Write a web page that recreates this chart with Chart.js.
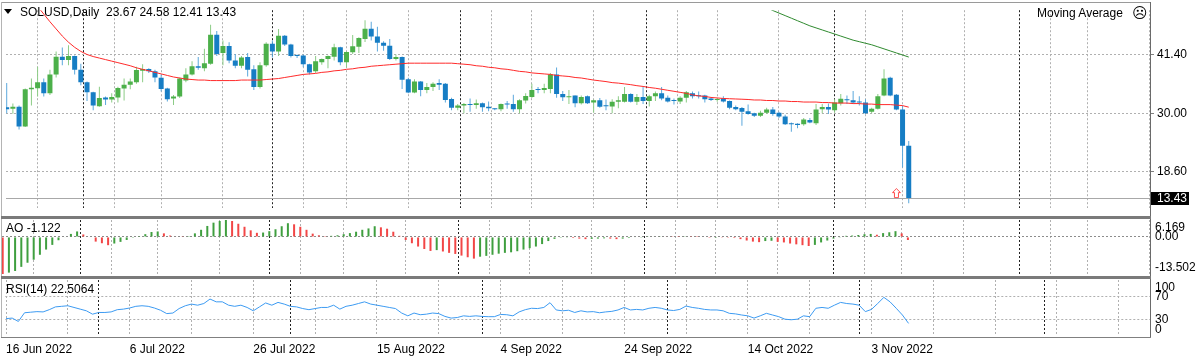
<!DOCTYPE html>
<html>
<head>
<meta charset="utf-8">
<script src="https://cdn.jsdelivr.net/npm/chart.js@4.4.0/dist/chart.umd.min.js"></script>
<style>
body { margin: 0; background: #fff; }
#wrap { position: relative; width: 1200px; height: 360px; overflow: hidden; background: #fff;
        font-family: 'Liberation Sans', Arial, sans-serif; font-size: 12px; color: #000; }
canvas { position: absolute; left: 0; }
.t { position: absolute; white-space: pre; line-height: 14px; }
.ln { position: absolute; }
</style>
</head>
<body>
<div id="wrap">
  <canvas id="mainChart" width="1200" height="218" style="top:0px"></canvas>
  <canvas id="aoChart" width="1200" height="58" style="top:218px"></canvas>
  <canvas id="rsiChart" width="1200" height="82" style="top:278px"></canvas>

  <div class="ln" style="left:1px;top:2px;width:1150px;height:1px;background:#9a9a9a"></div>
  <div class="ln" style="left:1px;top:2px;width:1px;height:336px;background:#b4b4b4"></div>
  <div class="ln" style="left:1150px;top:2px;width:1px;height:336px;background:#6a6a6a"></div>
  <div class="ln" style="left:1px;top:216px;width:1150px;height:3px;background:#7a7a7a"></div>
  <div class="ln" style="left:1px;top:276px;width:1150px;height:3px;background:#7a7a7a"></div>
  <div class="ln" style="left:1px;top:337px;width:1150px;height:1px;background:#808080"></div>

  <div class="ln" style="left:4px;top:9px;width:0;height:0;border-left:4px solid transparent;border-right:4px solid transparent;border-top:5px solid #000"></div>
  <div class="t" id="title" style="left:20px;top:5px"></div>
  <div class="t" style="left:1037px;top:6px">Moving Average</div>
  <div class="t" style="left:1132px;top:4px;font-family:'DejaVu Sans';font-size:15px;line-height:18px">&#9785;</div>
  <div class="t" id="aoLabel" style="left:6px;top:221px"></div>
  <div class="t" id="rsiLabel" style="left:6px;top:282px"></div>
</div>

<script>
// SOLUSD daily, 16 Jun 2022 .. 9 Nov 2022 (one bar per day)
var symbol = 'SOLUSD', period = 'Daily';

var opens = [31.2,30.9,31.3,27.4,34.7,34.9,36.06,33.94,37.6,41.04,
  40.4,41.2,38.5,36.06,34.1,31.4,33.1,32.7,33.1,34.85,
  35.6,36.06,38.3,38.67,38.2,36.97,34.85,32.9,33.3,36.4,
  37.6,39.2,38.8,39.7,45.35,41.8,43.15,40.3,39.3,41.0,
  38.6,35.15,39.4,43.6,42.1,45.16,43.46,41.3,41.3,39.6,
  38.2,40.0,40.6,41.04,42.9,40.0,41.95,43.0,44.55,46.55,
  45.0,43.8,43.2,40.6,41.0,36.67,34.06,36.2,34.55,35.15,
  35.9,35.76,32.79,31.1,31.5,31.8,31.6,31.95,31.3,30.97,
  30.8,31.8,31.8,30.8,32.5,33.2,34.73,34.55,34.73,37.6,
  33.76,33.15,33.46,31.95,33.34,32.1,32.55,31.5,31.33,32.24,
  32.24,33.76,32.24,33.2,32.42,33.34,33.94,33.03,32.55,32.3,
  33.03,33.94,33.46,33.46,32.91,32.6,32.91,32.42,31.21,31.03,
  30.42,30.0,29.52,30.12,30.73,30.12,29.39,28.06,27.94,27.88,
  28.67,28.06,30.79,31.21,30.6,31.94,32.73,32.55,32.3,32.12,
  30.3,30.9,33.46,36.97,33.64,30.73,23.67];
var highs = [35.9,31.9,31.5,34.85,36.8,39.1,36.8,38.5,42.1,42.85,
  43.3,41.3,39.7,36.2,34.2,35.2,33.3,33.9,35.2,36.8,
  36.8,39.1,39.6,38.8,38.5,37.6,35.0,33.6,37.0,38.8,
  40.2,41.0,42.6,47.3,46.1,44.25,43.9,41.6,41.2,41.8,
  39.4,40.0,43.9,44.25,46.5,45.3,43.6,41.5,41.5,39.7,
  41.2,40.7,41.3,43.6,43.0,42.1,45.3,44.85,48.2,47.9,
  46.9,44.1,44.55,41.5,41.1,36.97,36.67,36.3,35.94,36.06,
  36.67,35.9,33.03,31.8,32.0,32.9,32.7,32.1,32.3,31.0,
  31.9,32.4,33.64,32.73,33.94,35.76,35.15,35.76,37.9,38.97,
  34.36,34.55,33.5,33.46,33.46,32.7,33.0,32.7,32.73,33.34,
  35.15,33.94,33.76,35.15,33.64,34.24,35.15,33.46,32.91,33.34,
  34.36,34.24,34.24,33.64,33.03,33.03,33.34,32.5,31.52,31.21,
  31.7,30.1,30.48,31.09,31.21,30.3,29.7,28.18,28.06,29.09,
  29.09,31.82,31.82,31.9,32.73,33.76,33.46,34.36,33.34,32.73,
  31.09,33.76,38.61,37.15,33.76,31.52,24.58];
var lows = [30.0,29.9,26.85,27.3,31.5,33.3,33.3,33.6,37.0,39.4,
  39.4,37.6,35.5,32.4,30.6,31.3,31.6,32.1,32.1,32.5,
  34.7,35.76,36.06,37.9,36.06,34.24,32.3,31.6,33.0,36.06,
  37.4,38.5,38.2,39.5,41.2,39.4,39.8,38.8,38.8,37.2,
  34.55,34.85,39.1,40.9,41.2,43.15,40.9,40.8,39.0,37.6,
  37.9,39.5,38.8,40.3,39.4,39.0,41.6,41.8,43.95,44.25,
  42.1,42.25,40.4,40.3,34.73,33.94,33.94,33.34,33.94,34.36,
  34.55,32.1,30.6,30.6,30.0,30.3,30.9,30.3,30.4,30.6,
  30.4,30.9,30.3,30.0,31.9,33.0,33.9,33.94,33.94,33.03,
  32.4,31.8,31.2,31.7,31.8,30.1,31.1,30.6,30.0,30.97,
  32.12,32.12,31.63,31.8,31.33,32.42,32.55,32.12,31.7,31.8,
  32.12,32.91,32.91,32.12,32.42,32.24,32.12,30.79,30.6,27.57,
  29.7,29.27,29.27,29.88,29.52,29.09,27.7,26.4,27.09,27.57,
  28.06,27.7,30.0,29.88,30.12,31.52,31.82,31.82,31.52,29.88,
  30.0,30.73,33.34,33.34,30.6,19.39,12.41];
var closes = [30.8,31.3,27.4,34.7,35.0,36.06,33.94,37.6,41.04,40.4,
  41.2,38.5,36.06,34.1,31.5,33.0,32.7,33.2,34.97,35.6,
  36.2,38.49,38.67,38.2,37.0,34.73,32.73,33.3,36.8,37.6,
  39.2,38.9,39.8,45.35,41.6,43.15,40.3,39.3,40.9,38.5,
  35.15,39.4,43.6,42.1,45.16,43.46,41.2,41.2,39.6,38.0,
  40.2,40.6,41.2,42.9,40.0,42.0,43.1,44.7,46.55,45.0,
  43.8,43.2,40.6,41.0,36.55,34.06,36.2,34.55,35.15,35.76,
  35.6,32.6,31.1,31.5,31.8,31.6,31.95,31.2,30.97,30.8,
  31.8,31.7,30.8,32.55,33.4,34.55,34.55,34.97,37.6,33.76,
  33.15,33.34,31.95,33.2,31.95,32.55,31.3,31.4,32.24,32.55,
  33.76,32.24,33.2,32.42,33.34,33.94,32.91,32.3,32.42,33.03,
  34.12,33.34,33.34,32.73,32.6,32.79,32.3,31.09,30.79,30.3,
  29.88,29.52,30.12,30.73,29.88,29.39,27.88,27.88,27.7,28.79,
  28.18,30.73,31.21,30.73,32.12,32.85,32.55,32.12,32.12,30.0,
  30.9,33.34,36.79,33.46,30.73,23.63,13.43];

// red moving average, one value per bar (first bars are above the visible range)
var fastMa = [60.5,58.4,56.3,54.2,52.4,50.9,49.4,47.9,46.5,45.1,
  43.9,42.9,42.1,41.5,41.1,40.8,40.5,40.2,39.9,39.6,
  39.3,38.9,38.6,38.3,38.0,37.7,37.4,37.1,36.9,36.7,
  36.6,36.5,36.5,36.4,36.4,36.4,36.4,36.4,36.5,36.5,
  36.5,36.5,36.6,36.7,36.8,37.0,37.2,37.4,37.6,37.7,
  37.8,38.0,38.1,38.3,38.4,38.6,38.7,38.9,39.0,39.2,
  39.3,39.4,39.5,39.6,39.7,39.8,39.8,39.8,39.8,39.8,
  39.8,39.8,39.8,39.7,39.6,39.5,39.3,39.2,39.0,38.9,
  38.7,38.6,38.4,38.2,38.1,37.9,37.8,37.7,37.6,37.4,
  37.3,37.2,37.0,36.9,36.7,36.5,36.35,36.2,36.0,35.9,
  35.75,35.6,35.4,35.25,35.05,34.9,34.7,34.5,34.3,34.1,
  33.9,33.6,33.4,33.3,33.1,33.0,32.9,32.85,32.8,32.75,
  32.7,32.6,32.6,32.5,32.5,32.4,32.4,32.3,32.3,32.2,
  32.2,32.2,32.1,32.1,32.0,32.0,32.0,31.9,31.9,31.8,
  31.8,31.7,31.7,31.7,31.6,31.5,31.2];

// green moving average, only reaches the visible range near the end
var slowMaFrom = 121;
var slowMa = [52.0,51.3,50.7,50.1,49.6,49.1,48.6,48.1,47.6,47.1,
  46.7,46.3,45.9,45.5,45.1,44.7,44.3,44.0,43.7,43.4,
  43.0,42.6,42.2,41.8,41.4,41.0];

var aoValues = [-13.502,-13.0,-12.4,-10.9,-9.4,-8.3,-6.5,-4.6,-2.9,-1.2,
  -0.2,1.1,2.0,0.9,-0.2,-1.7,-2.3,-3.0,-2.4,-1.8,
  -1.1,-0.3,0.3,1.0,1.8,2.0,1.3,0.5,0.2,0.1,
  0.3,1.3,2.6,4.0,5.2,5.8,6.169,5.8,4.8,3.7,
  2.4,1.5,1.6,2.1,2.8,3.9,5.0,4.6,3.7,2.6,
  1.2,0.6,0.3,0.4,0.6,1.0,1.4,1.9,2.6,3.1,
  3.9,3.5,3.0,1.9,0.4,-1.1,-2.3,-3.5,-4.4,-5.1,
  -4.8,-5.3,-5.8,-6.2,-6.8,-7.4,-7.9,-7.2,-6.9,-6.5,
  -6.1,-5.8,-5.6,-5.2,-4.6,-4.1,-3.5,-2.6,-1.5,-0.7,
  -0.3,-0.1,-0.4,-0.6,-0.8,-0.7,-0.6,-0.5,-0.6,-0.8,
  -0.6,-0.4,-0.2,-0.1,0.1,0.2,0.25,0.2,0.1,0.05,
  0.1,0.08,0.05,0.0,-0.05,-0.03,-0.1,-0.3,-0.4,-0.8,
  -1.3,-1.7,-1.9,-1.5,-1.4,-1.8,-2.0,-2.4,-2.7,-3.0,
  -3.3,-2.9,-2.0,-1.3,-0.6,-0.1,0.4,0.5,0.7,1.0,
  1.1,0.8,1.4,1.7,2.1,1.3,-1.122];

var rsiValues = [31,32,26,41.5,42.5,43.5,43,47,52,53,
  54,51,48,45,39,42,42,43,47,48,
  50,53,54,53,50,46,40,41,49,54,
  57,55,58,66,61,61,55,53,55,51,
  45,52,59,55,60,57,53,52,49,47,
  49,51,51,55,48,53,55,58,61,57,
  55,53,51,49,41,36,41,38,39,41,
  40,35,32,33,36,35,36,35,34.5,34.5,
  38.5,38,36,43,47,49.5,49,51,59.5,46.5,
  45,46,42,45,43,43.5,41.5,43,44,46.5,
  51,46.5,47.5,46.5,49.5,51,49.5,46.5,45.5,47.5,
  53.5,51,49.5,47.5,46.5,46.5,45,40.5,39.5,37.5,
  36,32,36,40.5,37.5,34.5,30,29,30,36,
  34.5,49.5,51,49.5,55,60,58,57,55,43.5,
  47.5,58,69,61,49.5,37.5,22.5064];

// signal arrow under the bar of 7 Nov
var arrowBars = [144];
var arrowPrices = [14.4];

// axes
var priceTicks = [18.6, 30.0, 41.4];
var aoTickValues = [6.169, 0, -13.502];
var aoTickTexts = ['6.169', '0.00', '-13.502'];
var rsiTickValues = [100, 70, 30, 0];
var rsiTickTexts = ['100', '70', '30', '0'];
var gridBars = [0,10,20,30,40,50,60,70,80,90,100,110,120,130,140,150,160,170,180];
var monthBars = [15,46,77,107,138,168];
var dateBars = [0,20,40,60,80,100,120,140];
var dateLabels = ['16 Jun 2022','6 Jul 2022','26 Jul 2022','15 Aug 2022','4 Sep 2022','24 Sep 2022','14 Oct 2022','3 Nov 2022'];

var last = closes.length - 1;
document.getElementById('title').textContent = symbol + ',' + period + '  ' +
  [opens[last], highs[last], lows[last], closes[last]].map(function(v) { return v.toFixed(2); }).join(' ');
document.getElementById('aoLabel').textContent = 'AO ' + aoValues[last].toFixed(3);
document.getElementById('rsiLabel').textContent = 'RSI(14) ' + rsiValues[last].toFixed(4);

Chart.defaults.font.family = "'Liberation Sans', Arial, sans-serif";
Chart.defaults.font.size = 12;
Chart.defaults.color = '#000';

var xMin = -0.113, xMax = 185.05;
var allGrid = gridBars.concat(monthBars).sort(function(a, b) { return a - b; });

function timeAxis(showLabels) {
  return {
    type: 'linear', min: xMin, max: xMax, offset: false,
    afterBuildTicks: function(s) { s.ticks = allGrid.map(function(v) { return {value: v}; }); },
    afterFit: function(s) { s.height = showLabels ? 24 : 0; },
    ticks: {
      display: showLabels, autoSkip: false, maxRotation: 0, align: 'start', padding: 6,
      callback: function(v) { var k = dateBars.indexOf(v); return k < 0 ? '' : dateLabels[k]; }
    },
    grid: {
      drawTicks: false,
      color: function(c) { return c.tick && monthBars.indexOf(c.tick.value) >= 0 ? '#222222' : '#b0b0b0'; }
    },
    border: { display: false, dash: [2, 2] }
  };
}

function sideAxis(min, max, lines, color) {
  return {
    position: 'right', min: min, max: max,
    afterBuildTicks: function(s) { s.ticks = lines.map(function(v) { return {value: v}; }); },
    afterFit: function(s) { s.width = 50; },
    ticks: { display: false },
    grid: { color: color, drawTicks: false },
    border: { display: false, dash: [2, 2] }
  };
}

// labels at the right side of the indicator windows
var sideLabels = {
  id: 'sideLabels',
  afterDraw: function(chart, args, opts) {
    var ctx = chart.ctx, ys = chart.scales.y, n = opts.values.length;
    ctx.save();
    ctx.font = "12px 'Liberation Sans', Arial, sans-serif";
    ctx.fillStyle = '#000';
    ctx.textAlign = 'left';
    opts.values.forEach(function(v, k) {
      var y = ys.getPixelForValue(v);
      if (k === 0) { ctx.textBaseline = 'top'; y += 2; }
      else if (k === n - 1) ctx.textBaseline = 'bottom';
      else ctx.textBaseline = 'middle';
      ctx.fillText(opts.texts[k], chart.chartArea.right + 5, y);
    });
    ctx.restore();
  }
};

// bid line and price box of the last close
var bidLine = {
  id: 'bidLine',
  beforeDatasetsDraw: function(chart) {
    var ctx = chart.ctx, a = chart.chartArea;
    var py = Math.round(chart.scales.y.getPixelForValue(closes[last])) + 0.5;
    ctx.save();
    ctx.strokeStyle = '#a8a8a8';
    ctx.lineWidth = 1;
    ctx.beginPath(); ctx.moveTo(a.left, py); ctx.lineTo(a.right, py); ctx.stroke();
    ctx.restore();
  },
  afterDraw: function(chart) {
    var ctx = chart.ctx, a = chart.chartArea;
    var py = Math.round(chart.scales.y.getPixelForValue(closes[last]));
    ctx.save();
    ctx.fillStyle = '#000';
    ctx.fillRect(a.right + 1, py - 6, 38, 13);
    ctx.fillStyle = '#fff';
    ctx.font = "12px 'Liberation Sans', Arial, sans-serif";
    ctx.textBaseline = 'middle';
    ctx.fillText(closes[last].toFixed(2), a.right + 7, py + 1);
    ctx.restore();
  }
};

// hollow red up arrow used as point style
var arrowImg = document.createElement('canvas');
arrowImg.width = 9; arrowImg.height = 10;
(function() {
  var c = arrowImg.getContext('2d');
  c.beginPath();
  c.moveTo(4.5, 0.5); c.lineTo(8.5, 4.5); c.lineTo(6.5, 4.5); c.lineTo(6.5, 9.5);
  c.lineTo(2.5, 9.5); c.lineTo(2.5, 4.5); c.lineTo(0.5, 4.5); c.closePath();
  c.fillStyle = '#fff'; c.fill();
  c.strokeStyle = '#ff4a4a'; c.lineWidth = 1; c.stroke();
})();

var bodyColors = opens.map(function(o, i) { return closes[i] >= o ? '#4cb04a' : '#167dc4'; });
var wickColors = opens.map(function(o, i) { return closes[i] >= o ? '#8ccc86' : '#5ca8dc'; });
var aoColors = aoValues.map(function(v, i) { return i > 0 && v > aoValues[i - 1] ? '#3f9f3f' : '#f24646'; });

var common = {
  responsive: false, animation: false, events: [],
  plugins: { legend: { display: false }, tooltip: { enabled: false } }
};

new Chart(document.getElementById('mainChart'), {
  type: 'bar',
  data: {
    datasets: [
      { type: 'line', data: fastMa.map(function(v, i) { return {x: i, y: v}; }),
        borderColor: '#ff2a2a', borderWidth: 1, pointRadius: 0, order: 0 },
      { type: 'line', data: slowMa.map(function(v, k) { return {x: slowMaFrom + k, y: v}; }),
        borderColor: '#2f8a2f', borderWidth: 1, pointRadius: 0, order: 0 },
      { data: highs.map(function(h, i) { return {x: i, y: [lows[i], h]}; }),
        backgroundColor: wickColors, barThickness: 1, grouped: false, inflateAmount: 0, order: 2 },
      { data: opens.map(function(o, i) { return {x: i, y: [o, closes[i]]}; }),
        backgroundColor: bodyColors, barThickness: 5, grouped: false, inflateAmount: 0, minBarLength: 1, order: 1 },
      { type: 'line', data: arrowBars.map(function(b, k) { return {x: b, y: arrowPrices[k]}; }),
        showLine: false, pointStyle: arrowImg, pointRadius: 5, order: -1 }
    ]
  },
  options: Object.assign({}, common, {
    layout: { padding: { left: 2, right: 0, top: 2, bottom: 2 } },
    scales: {
      x: timeAxis(false),
      y: {
        position: 'right', min: 11.52, max: 50.16,
        afterBuildTicks: function(s) { s.ticks = priceTicks.map(function(v) { return {value: v}; }); },
        afterFit: function(s) { s.width = 50; },
        ticks: { callback: function(v) { return v.toFixed(2); }, padding: 3, autoSkip: false },
        grid: { color: '#b0b0b0', drawTicks: true, tickLength: 4, tickColor: '#808080' },
        border: { display: false, dash: [2, 2] }
      }
    }
  }),
  plugins: [bidLine]
});

new Chart(document.getElementById('aoChart'), {
  type: 'bar',
  data: {
    datasets: [{ data: aoValues.map(function(v, i) { return {x: i, y: v}; }),
      backgroundColor: aoColors, barThickness: 2, inflateAmount: 0 }]
  },
  options: Object.assign({}, common, {
    layout: { padding: { left: 2, right: 0, top: 2, bottom: 2 } },
    scales: { x: timeAxis(false), y: sideAxis(aoTickValues[2], aoTickValues[0], [0], '#8c8c8c') },
    plugins: Object.assign({}, common.plugins, { sideLabels: { values: aoTickValues, texts: aoTickTexts } })
  }),
  plugins: [sideLabels]
});

new Chart(document.getElementById('rsiChart'), {
  type: 'line',
  data: {
    datasets: [{ data: rsiValues.map(function(v, i) { return {x: i, y: v}; }),
      borderColor: '#3d9bf2', borderWidth: 1, pointRadius: 0 }]
  },
  options: Object.assign({}, common, {
    layout: { padding: { left: 2, right: 0, top: 2, bottom: 0 } },
    scales: { x: timeAxis(true), y: sideAxis(0, 100, [30, 70], '#b0b0b0') },
    plugins: Object.assign({}, common.plugins, { sideLabels: { values: rsiTickValues, texts: rsiTickTexts } })
  }),
  plugins: [sideLabels]
});
</script>
</body>
</html>
